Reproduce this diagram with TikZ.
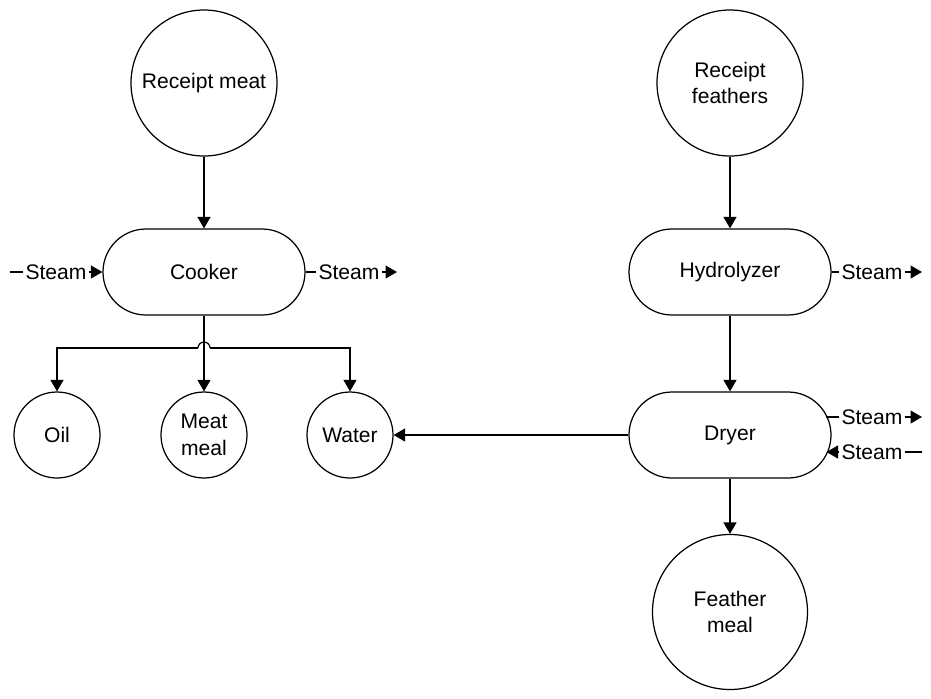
\documentclass[tikz,border=0pt]{standalone}
\usepackage{fontspec}
\setmainfont{Liberation Sans}
\usetikzlibrary{arrows.meta}

\begin{document}
\begin{tikzpicture}[
      unit/.style={draw, line width=0.7pt, rounded corners=0.86cm,
                   minimum width=4.04cm, minimum height=1.72cm},
      tank/.style={circle, draw, line width=0.7pt, inner sep=0pt, minimum size=#1},
      lbl/.style={inner sep=1pt},
      arr/.style={-{Triangle[length=2.3mm,width=2.6mm]}, line width=0.7pt},
      pipe/.style={line width=0.7pt},
      every node/.style={align=center, font=\fontsize{12}{15.3}\selectfont}]
    \useasboundingbox (0,0) rectangle (18.62,-13.96);
    % meat line
    \node[tank=2.92cm] (meatIn)   at (4.08,-1.66)  {Receipt meat};
    \node[unit]        (cooker)   at (4.08,-5.44)  {Cooker};
    \node[tank=1.72cm] (oil)      at (1.14,-8.7)   {Oil};
    \node[tank=1.72cm] (meatMeal) at (4.08,-8.7)   {Meat\\meal};
    \node[tank=1.72cm] (water)    at (7.0,-8.7)    {Water};
    % feather line
    \node[tank=2.92cm] (featherIn)   at (14.6,-1.66)  {Receipt\\feathers};
    \node[unit]        (hydro)       at (14.6,-5.44)  {Hydrolyzer};
    \node[unit]        (dryer)       at (14.6,-8.7)   {Dryer};
    \node[tank=3.1cm]  (featherMeal) at (14.6,-12.24) {Feather\\meal};
    % steam
    \node[lbl] (stCookIn)  at (1.12,-5.44)  {Steam};
    \node[lbl] (stCookOut) at (6.98,-5.44)  {Steam};
    \node[lbl] (stHydOut)  at (17.44,-5.44) {Steam};
    \node[lbl] (stDryOut)  at (17.44,-8.34) {Steam};
    \node[lbl] (stDryIn)   at (17.44,-9.04) {Steam};
    \coordinate (cookSrc)  at (0.2,-5.44);
    \coordinate (cookSink) at (7.94,-5.44);
    \coordinate (hydSink)  at (18.44,-5.44);
    \coordinate (drySink)  at (18.44,-8.34);
    \coordinate (drySrc)   at (18.44,-9.04);
    \coordinate (dryOutPt) at (16.52,-8.34);
    \coordinate (dryInPt)  at (16.53,-9.04);
    \coordinate (hopL)     at (3.96,-6.96);
    \coordinate (hopR)     at (4.20,-6.96);

    \draw[arr] (meatIn) -- (cooker);
    \draw[arr] (cooker) -- (meatMeal);
    \draw[arr] (hopL) -| (oil);
    \draw[arr] (hopR) -| (water);
    \draw[pipe] (hopL) arc[start angle=180, end angle=0, radius=0.12cm];
    \draw[arr] (featherIn) -- (hydro);
    \draw[arr] (hydro) -- (dryer);
    \draw[arr] (dryer) -- (featherMeal);
    \draw[arr] (dryer) -- (water);

    \draw[pipe] (cookSrc) -- (stCookIn);
    \draw[arr]  (stCookIn) -- (cooker);
    \draw[pipe] (cooker) -- (stCookOut);
    \draw[arr]  (stCookOut) -- (cookSink);
    \draw[pipe] (hydro) -- (stHydOut);
    \draw[arr]  (stHydOut) -- (hydSink);
    \draw[pipe] (dryOutPt) -- (stDryOut);
    \draw[arr]  (stDryOut) -- (drySink);
    \draw[pipe] (drySrc) -- (stDryIn);
    \draw[arr]  (stDryIn) -- (dryInPt);
  \end{tikzpicture}
\end{document}
